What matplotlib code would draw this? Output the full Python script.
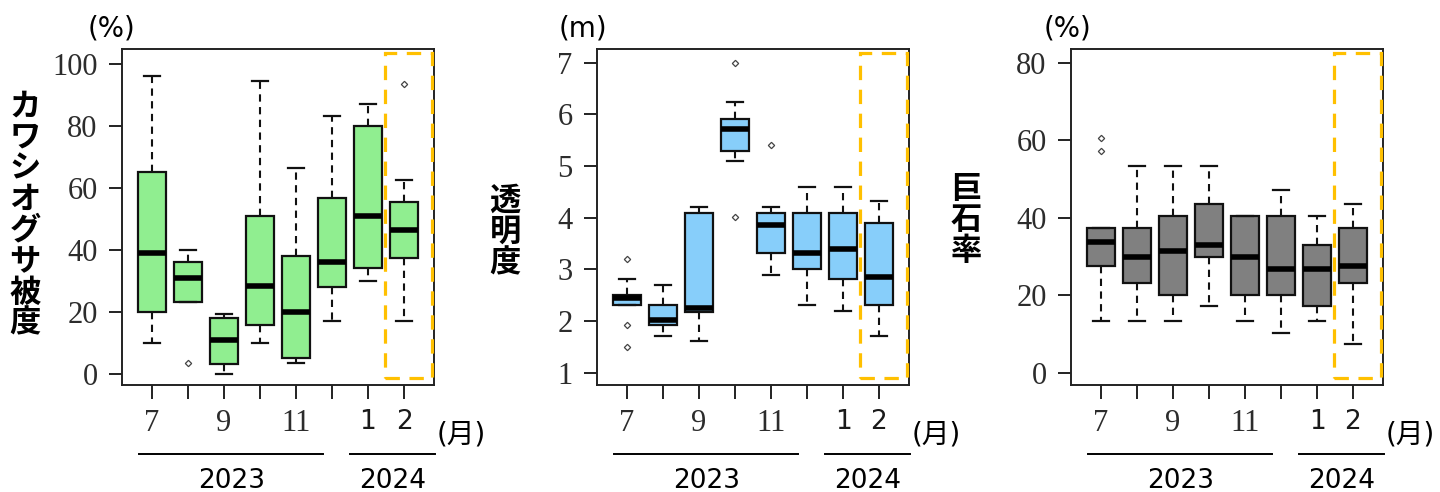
import matplotlib.pyplot as plt
from matplotlib.patches import Rectangle
from matplotlib.transforms import blended_transform_factory

plt.rcParams['font.family'] = ['DejaVu Sans', 'Noto Sans CJK JP']

# survey months, Jul 2023 - Feb 2024
months = [7, 8, 9, 10, 11, 12, 1, 2]
month_labels = ["7", "", "9", "", "11", "", "1", "2"]
serif_labels = ["7", "9", "11"]
years = ["2023", "2024"]

# カワシオグサ被度 (%)
cover_whislo = [10, 23, 0, 10, 3.4, 17, 30, 17]
cover_q1 = [20, 23, 3.2, 15.6, 5.2, 28, 34, 37.4]
cover_med = [39, 31, 11, 28.3, 20, 36, 51, 46.5]
cover_q3 = [65, 36, 18, 51, 38, 56.7, 80, 55.4]
cover_whishi = [96, 40, 19.4, 94.3, 66.5, 83.2, 87, 62.5]
cover_fliers = [[], [3.4], [], [], [], [], [], [93.4]]

# 透明度 (m)
clarity_whislo = [2.32, 1.71, 1.62, 5.10, 2.89, 2.31, 2.20, 1.71]
clarity_q1 = [2.32, 1.92, 2.18, 5.30, 3.31, 3.01, 2.82, 2.31]
clarity_med = [2.45, 2.02, 2.26, 5.72, 3.86, 3.32, 3.39, 2.86]
clarity_q3 = [2.50, 2.32, 4.10, 5.91, 4.10, 4.10, 4.10, 3.90]
clarity_whishi = [2.82, 2.70, 4.21, 6.23, 4.21, 4.60, 4.60, 4.33]
clarity_fliers = [[3.21, 1.92, 1.50], [], [], [7.0, 4.01], [5.41], [], [], []]

# 巨石率 (%)
boulder_whislo = [13.4, 13.4, 13.4, 17.2, 13.4, 10.3, 13.4, 7.3]
boulder_q1 = [27.4, 23.1, 20.1, 29.8, 20.1, 20.1, 17.2, 23.1]
boulder_med = [33.6, 29.9, 31.5, 33.0, 29.9, 26.8, 26.8, 27.4]
boulder_q3 = [37.2, 37.2, 40.3, 43.4, 40.3, 40.3, 33.0, 37.2]
boulder_whishi = [37.2, 53.2, 53.2, 53.2, 40.3, 47.0, 40.3, 43.4]
boulder_fliers = [[60.5, 57.3], [], [], [], [], [], [], []]

W, H = 1440, 492
fig = plt.figure(figsize=(W / 100, H / 100), dpi=100)
fig.patch.set_facecolor("white")


def make_stats(lo, q1, med, q3, hi, fliers):
    return [dict(whislo=a, q1=b, med=c, q3=d, whishi=e, fliers=f)
            for a, b, c, d, e, f in zip(lo, q1, med, q3, hi, fliers)]


def draw_panel(left_px, stats, color, ylim, yticks, ylabel, label_xy, unit, unit_xy):
    ax = fig.add_axes([left_px / W, 1 - 385 / H, 312 / W, 336 / H])
    pos = list(range(1, len(months) + 1))
    ax.bxp(stats, positions=pos, widths=0.8, capwidths=0.45,
           patch_artist=True, showfliers=True,
           boxprops=dict(facecolor=color, edgecolor="#111111", linewidth=1.6),
           medianprops=dict(color="black", linewidth=4, solid_capstyle="butt"),
           whiskerprops=dict(color="#111111", linewidth=1.5, linestyle=(0, (3.5, 2.6))),
           capprops=dict(color="#111111", linewidth=1.6),
           flierprops=dict(marker="D", markersize=3.2, markerfacecolor="white",
                           markeredgecolor="#444444", markeredgewidth=0.9))
    ax.set_xlim(1 - 30 / 36, len(months) + 30 / 36)
    ax.set_ylim(*ylim)
    ax.set_yticks(yticks)
    ax.set_yticklabels([str(t) for t in yticks], family="Liberation Serif",
                       fontsize=22, color="#2c2c2c")
    ax.set_xticks(pos)
    ax.set_xticklabels(month_labels, fontsize=22, color="#1a1a1a")
    for t in ax.get_xticklabels():
        if t.get_text() in serif_labels:
            t.set_family("Liberation Serif")
            t.set_color("#2c2c2c")
        else:
            t.set_family("DejaVu Sans")
            t.set_fontsize(19)
    ax.tick_params(axis="y", length=9.5, width=1.4, pad=8, color="#222222")
    ax.tick_params(axis="x", length=10, width=1.4, pad=7, color="#222222")
    for s in ax.spines.values():
        s.set_linewidth(1.4)
        s.set_color("#222222")

    trans = blended_transform_factory(ax.transData, ax.transAxes)
    # latest month highlighted
    last = len(months)
    ax.add_patch(Rectangle((last - 0.52, 0.02), 1.3, 0.968, transform=trans,
                           fill=False, edgecolor="#FFC000", linewidth=2.3,
                           linestyle=(0, (4.5, 3)), clip_on=False, zorder=5))

    # year brackets under the month axis
    for year, (x0, x1) in zip(years, [(0.65, 5.75), (6.5, 8.85)]):
        ax.plot([x0, x1], [-0.204, -0.204], transform=trans, color="black",
                linewidth=1.4, clip_on=False)
        ax.text((x0 + x1) / 2, -0.286, year, transform=trans, ha="center",
                va="center", fontsize=19, family="DejaVu Sans")
    ax.text(8.92, -0.146, "(月)", transform=trans, ha="left", va="center",
            fontsize=20, family=["DejaVu Sans", "Noto Sans CJK JP"])

    fig.text(unit_xy[0] / W, 1 - unit_xy[1] / H, unit, ha="center", va="center",
             fontsize=20, family="DejaVu Sans")
    fig.text(label_xy[0] / W, 1 - label_xy[1] / H, "\n".join(ylabel),
             ha="center", va="center", fontsize=22.5, fontweight="bold",
             family="Noto Sans CJK JP", linespacing=0.96)
    return ax


draw_panel(122, make_stats(cover_whislo, cover_q1, cover_med, cover_q3,
                           cover_whishi, cover_fliers),
           "#90EE90", (-3.6, 104.7), [0, 20, 40, 60, 80, 100],
           "カワシオグサ被度", (25, 215), "(%)", (112, 28))
draw_panel(597, make_stats(clarity_whislo, clarity_q1, clarity_med, clarity_q3,
                           clarity_whishi, clarity_fliers),
           "#87CEFA", (0.762, 7.265), [1, 2, 3, 4, 5, 6, 7],
           "透明度", (505, 232), "(m)", (583, 28))
draw_panel(1071, make_stats(boulder_whislo, boulder_q1, boulder_med, boulder_q3,
                            boulder_whishi, boulder_fliers),
           "#808080", (-3.2, 83.5), [0, 20, 40, 60, 80],
           "巨石率", (966, 220), "(%)", (1067, 28))

fig.savefig("out.png", dpi=100)
